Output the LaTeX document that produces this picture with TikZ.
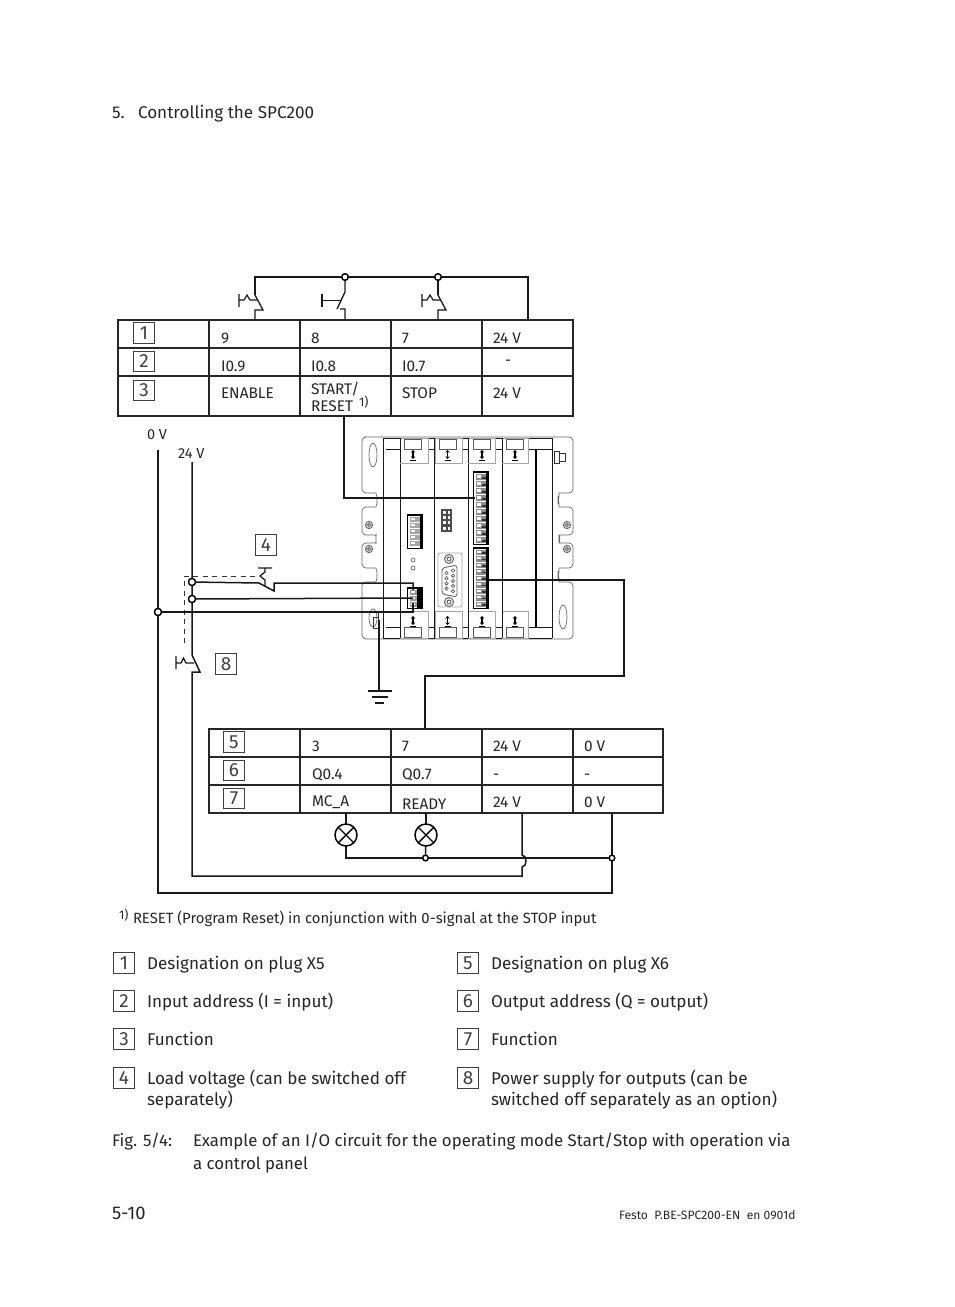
\documentclass[tikz,border=0pt]{standalone}
\usepackage{fontspec}
\usetikzlibrary{arrows.meta}
\setmainfont{Fira Sans}
\setsansfont{Fira Sans}
\begin{document}
\begin{tikzpicture}[x=1pt,y=-1pt,
  every node/.style={inner sep=0pt,outer sep=0pt},
  body/.style={anchor=base west,font=\fontsize{17.1}{22}\selectfont,text=black!85},
  capt/.style={anchor=base west,font=\fontsize{16.8}{22}\selectfont,text=black!85},
  cell/.style={anchor=base west,font=\fontsize{15.4}{16.5}\selectfont,text=black!85},
  foot/.style={anchor=base west,font=\fontsize{14.85}{16}\selectfont,text=black!85},
  tiny/.style={anchor=base west,font=\fontsize{12.5}{14}\selectfont,text=black!85},
  numbox/.style={draw=black!75,line width=0.9pt,minimum width=21pt,minimum height=20.5pt,anchor=center,font=\fontsize{19}{22}\selectfont,text=black!75},
  wire/.style={line width=1.5pt,black!90,line join=miter},
  grid/.style={line width=1.2pt,black!85},
  dev/.style={line width=0.7pt,black!60},
  devk/.style={line width=0.9pt,black!90},
  pin/.style={fill=black!45},
  pinw/.style={fill=white},
  junc/.style={circle,draw=black,line width=1.3pt,fill=white,minimum size=7pt},
  lamp/.style={circle,draw=black,line width=1.5pt,fill=white,minimum size=22pt},
  darrow/.style={black,line width=1.2pt,{Stealth[length=2.6pt,width=4.5pt]}-{Stealth[length=2.6pt,width=4.5pt]}}]
\useasboundingbox (0,0) rectangle (954,1307);
\fill[white] (0,0) rectangle (954,1307);

% header
\node[body] (hd1) at (112,118) {5.};
\node[body] (hd2) at (138,118) {Controlling the SPC200};

% ---- device plate
\draw[dev,rounded corners=4pt]
 (368,437) -- (362,437) -- (362,493) -- (372,493) to[out=0,in=90] (377,500) to[out=-90,in=0] (372,507) -- (362,507) -- (362,535)
 -- (372,535) to[out=0,in=90] (376,539) to[out=-90,in=0] (372,543) -- (362,543) -- (362,568) -- (372,568) to[out=0,in=90] (377,575) to[out=-90,in=0] (372,582) -- (362,582)
 -- (362,639) -- (573,639) -- (573,582) -- (563,582) to[out=180,in=90] (558,575) to[out=-90,in=180] (563,568) -- (573,568)
 -- (573,543) -- (563,543) to[out=180,in=90] (559,539) to[out=-90,in=180] (563,535) -- (573,535) -- (573,507) -- (563,507) to[out=180,in=90] (558,500) to[out=-90,in=180] (563,493) -- (573,493) -- (573,437) -- cycle;
\draw[devk] (383,438) -- (383,638) (552,438) -- (552,638);
\draw[devk] (400,438) -- (400,638) (434,438) -- (434,638) (468,438) -- (468,638) (502,438) -- (502,638);
\draw[devk] (383,438) -- (552,438) (383,638) -- (552,638) (386,627) -- (552,627) (386,449) -- (552,449);
\draw[line width=2pt,black] (535.5,449) -- (535.5,627);
\foreach \xa/\xb/\xc in {400/428/413,435/462/447.5,468/495/482,502/528/515}{
  \draw[draw=black!35,line width=0.8pt,fill=white] (\xa,438) rectangle (\xb,463);
  \draw[draw=black!35,line width=0.8pt,fill=white] (\xa,611) rectangle (\xb,638);
  \draw[black!65,line width=0.8pt,fill=white] ({\xc-8.5},439) rectangle ({\xc+8.5},449);
  \draw[black!65,line width=0.8pt,fill=white] ({\xc-8.5},627) rectangle ({\xc+8.5},637.5);
  \draw[darrow] (\xc,450) -- (\xc,459);
  \draw[darrow] (\xc,616) -- (\xc,625);
  \draw[line width=.8pt,black] ({\xc-3},460) -- ({\xc+3},460) ({\xc-3},626) -- ({\xc+3},626);
}
\draw[devk] (400,438) -- (400,463) (434,438) -- (434,463) (468,438) -- (468,463) (502,438) -- (502,463);
\draw[devk] (400,611) -- (400,638) (434,611) -- (434,638) (468,611) -- (468,638) (502,611) -- (502,638);
% ovals and screws
\draw[dev] (373,455) ellipse (4pt and 12pt) (563,617) ellipse (4pt and 12pt) (373,618) ellipse (4pt and 9pt);
\foreach \sx/\sy in {369/525,369/549,567/525,567/549}{
  \draw[dev,line width=1pt] (\sx,\sy) circle (3.6pt) (\sx,\sy) circle (1.7pt);
}
\draw[black!80,line width=0.9pt] (554,451) rectangle (559,463) (559,453) rectangle (565,461);
\draw[black!80,line width=0.9pt] (373,617) rectangle (378,628) (378,612) -- (378,628);
% LEDs
\draw[dev] (413,560) circle (2pt) (413,568) circle (2pt);
% terminal blocks
\draw[black,line width=.9pt,fill=white] (473.5,471) rectangle (488.5,544.5);
\fill[black] (486,471) rectangle (489,544.5);
\fill[black] (473.5,471) rectangle (486,473);
\foreach \i in {0,...,9}{
  \fill[pin] (476,{474+7*\i}) rectangle (486,{480+7*\i});
  \fill[pinw] (477,{475+7*\i}) rectangle (481,{477.5+7*\i});
  \fill[black!80] (482,{477+7*\i}) rectangle (486,{478.5+7*\i});
}
\draw[black,line width=.9pt,fill=white] (473.5,547) rectangle (488.5,608);
\fill[black] (486,547) rectangle (489,608);
\fill[black] (473.5,547) rectangle (486,549);
\foreach \i in {0,...,8}{
  \fill[pin] (476,{549.5+6.5*\i}) rectangle (486,{555+6.5*\i});
  \fill[pinw] (477,{550.5+6.5*\i}) rectangle (481,{552.5+6.5*\i});
  \fill[black!80] (482,{552+6.5*\i}) rectangle (486,{553.5+6.5*\i});
}
\draw[black,line width=.9pt,fill=white] (407.5,514) rectangle (422.5,548);
\fill[black] (419.5,514) rectangle (423,548);
\fill[black] (407.5,514) rectangle (423,516);
\foreach \i in {0,...,4}{
  \fill[black!35] (410,{517+6*\i}) rectangle (419.5,{522+6*\i});
  \fill[white] (411,{518+6*\i}) rectangle (415,{520+6*\i});
}
\fill[black!70] (441,509) rectangle (452,532);
\foreach \i in {0,...,3}{
  \fill[white] (443,{511+5.2*\i}) rectangle (445.5,{514+5.2*\i});
  \fill[white] (447.5,{511+5.2*\i}) rectangle (450,{514+5.2*\i});
}
\draw[black,line width=.9pt,fill=white] (407.5,587) rectangle (422.5,608);
\fill[black] (417,587) rectangle (423,608);
\fill[black] (407.5,587) rectangle (423,589);
\foreach \i in {0,1,2}{
  \fill[black!40] (410,{590+6*\i}) rectangle (417,{595+6*\i});
  \fill[white] (411,{591+6*\i}) rectangle (415,{593+6*\i});
}
% sub-D
\draw[black!35,line width=.8pt,rounded corners=2pt] (438,553) rectangle (462,607);
\draw[dev,line width=1pt] (449,559) circle (4.5pt) (449,559) circle (2pt) (449,602) circle (4.5pt) (449,602) circle (2pt);
\draw[dev,rounded corners=3pt,line width=.9pt] (442,568) -- (457,565) -- (457,597) -- (442,594) -- cycle;
\foreach \i in {0,...,4}{ \draw[black!70,line width=.6pt] (453,{570.5+5.2*\i}) circle (1.7pt); }
\foreach \i in {0,...,3}{ \draw[black!70,line width=.6pt] (446.5,{573+5.2*\i}) circle (1.7pt); }

% ---- table 1
\draw[grid] (118,320) rectangle (573,416);
\draw[grid] (118,348) -- (573,348) (118,376) -- (573,376);
\foreach \xx in {209,300,391,482}{ \draw[grid] (\xx,320) -- (\xx,416); }
\node[numbox] (n1) at (144,333) {1};
\node[numbox] (n2) at (144,361.5) {2};
\node[numbox] (n3) at (144,390.5) {3};
\node[cell] (t9) at (221,343) {9};
\node[cell] (t8) at (311,343) {8};
\node[cell] (t7) at (402,343) {7};
\node[cell] (t24a) at (493,343) {24 V};
\node[cell] (ti9) at (221,371) {I0.9};
\node[cell] (ti8) at (311,371) {I0.8};
\node[cell] (ti7) at (402,371) {I0.7};
\node[cell] (tdash) at (505,365) {-};
\node[cell] (ten) at (221,398) {ENABLE};
\node[cell] (tst) at (311,394) {START/};
\node[cell] (tre) at (311,411) {RESET};
\node[tiny] (tre1) at (359,406) {1)};
\node[cell] (tsp) at (402,398) {STOP};
\node[cell] (t24b) at (493,398) {24 V};

% top wiring
\coordinate (pa) at (255,319);
\coordinate (pd) at (528,319);
\node[junc,minimum size=6.5pt] (j1) at (345,277) {};
\node[junc,minimum size=6.5pt] (j2) at (438,277) {};
\draw[wire] (255,295) -- (255,277) -- (j1) -- (j2) -- (528,277) -- (pd);
% switches NC
\foreach \o in {0,183}{
 \draw[wire,line width=1.3pt] (255+\o,295) -- (263+\o,310) -- (255+\o,310) -- (255+\o,319);
 \draw[wire,line width=1.2pt] (239+\o,294) -- (239+\o,307) (239+\o,300) -- (244+\o,300) -- (247+\o,295) -- (250+\o,300) -- (257+\o,300);
}
\draw[wire] (438,277) -- (438,295);
\draw[wire,line width=1.3pt] (j1) -- (345,292) -- (337,309) (340,309) -- (345,309) -- (345,319);
\draw[wire,line width=1.2pt] (322,294) -- (322,307) (322,300.5) -- (342,300.5);
\foreach \n in {j1,j2}{ \node[junc,minimum size=6.5pt] at (\n) {}; }

% wire start/reset to block
\coordinate (w1) at (344,416);
\coordinate (w2) at (475,498);
\draw[wire] (w1) |- (w2);
\coordinate (w3) at (489,580);
\coordinate (w4) at (425,728);
\draw[wire] (w3) -- (624,580) -- (624,676) -- (425,676) -- (w4);

% left side
\node[tiny,font=\fontsize{14.5}{16}\selectfont] (v0) at (147,439) {0 V};
\node[tiny,font=\fontsize{14.5}{16}\selectfont] (v24) at (178,458) {24 V};
\coordinate (a0) at (158,450);
\coordinate (a24) at (192,462);
\node[junc] (ja) at (192,582) {};
\node[junc] (jb) at (192,599) {};
\node[junc] (jc) at (158,612) {};
\node[junc,minimum size=5.5pt] (jd) at (425.5,858) {};
\node[junc,minimum size=5.5pt] (je) at (612,858) {};
\draw[dashed,dash pattern=on 5pt off 4.5pt,line width=.8pt,black!80] (255,576) -- (184,576) -- (184,645);
% 24 V main
\draw[wire] (a24) -- (ja) -- (jb) -- (192,655) -- (200,672) -- (192,672) -- (192,876) -- (522,876) -- (522,867) to[out=0,in=-90] (526,861) to[out=90,in=0] (522,855) -- (522,813);
% 0 V main
\draw[wire] (a0) -- (jc) -- (158,893) -- (612,893) -- (je) -- (612,813);
% load switch
\draw[wire] (ja) -- (259,583) -- (274,591) -- (274,583) -- (413,583) -- (413,590);
\draw[wire] (jb) -- (413,598);
\draw[wire] (jc) -- (413,612) -- (413,603);
\draw[wire,line width=1.2pt] (258,568) -- (272,568) (265,568) -- (265,572) -- (260,576) -- (265,580) -- (265,586);
\draw[wire,line width=1.2pt] (176,656) -- (176,669) (176,663) -- (181,663) -- (183.5,658) -- (186,663) -- (194,663);
\foreach \n in {ja,jb,jc}{ \node[junc] at (\n) {}; }
\node[numbox] (n4) at (266,545) {4};
\node[numbox] (n8) at (226,664) {8};
% ground
\coordinate (g0) at (379,620);
\coordinate (g1) at (379,691);
\draw[wire,line width=1.2pt] (g0) -- (g1);
\draw[wire,line width=1.2pt] (368,691) -- (392,691);
\draw[wire,line width=1.2pt] (372,697) -- (388,697);
\draw[wire,line width=1.4pt] (375,703) -- (384,703);

% ---- table 2
\draw[grid] (209,729) rectangle (663,813);
\draw[grid] (209,757) -- (663,757) (209,785) -- (663,785);
\foreach \xx in {300,391,482,573}{ \draw[grid] (\xx,729) -- (\xx,813); }
\node[numbox] (n5) at (234,742) {5};
\node[numbox] (n6) at (234,770.5) {6};
\node[numbox] (n7) at (234,798.5) {7};
\node[cell] (c3) at (312,751) {3};
\node[cell] (c7) at (402,751) {7};
\node[cell] (c24) at (493,751) {24 V};
\node[cell] (c0) at (584,751) {0 V};
\node[cell] (cq4) at (312,779) {Q0.4};
\node[cell] (cq7) at (402,779) {Q0.7};
\node[cell] (cd1) at (493,779) {-};
\node[cell] (cd2) at (584,779) {-};
\node[cell] (cmc) at (312,806) {MC\_A};
\node[cell] (crd) at (402,809) {READY};
\node[cell] (c24b) at (493,807) {24 V};
\node[cell] (c0b) at (584,807) {0 V};
% lamps
\coordinate (l1t) at (346,813);
\coordinate (l2t) at (426,813);
\node[lamp] (l1) at (346,835) {};
\node[lamp] (l2) at (426,835) {};
\draw[wire] (l1t) -- (l1);
\draw[wire] (l2t) -- (l2);
\foreach \n in {l1,l2}{
  \draw[line width=1.4pt] (\n.north west) -- (\n.south east) (\n.north east) -- (\n.south west);
}
\draw[wire] (l1) -- (346,858) -- (jd) -- (je);
\draw[wire] (l2) -- (jd);
\node[junc,minimum size=5.5pt] at (jd) {};
\node[junc,minimum size=5.5pt] at (je) {};

% footnote
\node[tiny] (f1) at (119,919) {1)};
\node[foot] (f2) at (133,923) {RESET (Program Reset) in conjunction with 0-signal at the STOP input};

% legend
\foreach \nm/\yy/\lab/\txt in {a/963/1/Designation on plug X5,b/1001/2/Input address (I = input),c/1039/3/Function,d/1078/4/Load voltage (can be switched off}{
  \node[numbox] (la\nm) at (124,\yy) {\lab};
  \node[body] (lt\nm) at (147,\yy+6) {\txt};
}
\node[body] (ltd2) at (147,1105) {separately)};
\foreach \nm/\yy/\lab/\txt in {a/963/5/Designation on plug X6,b/1001/6/Output address (Q = output),c/1039/7/Function,d/1078/8/Power supply for outputs (can be}{
  \node[numbox] (ra\nm) at (468,\yy) {\lab};
  \node[body] (rt\nm) at (491,\yy+6) {\txt};
}
\node[body] (rtd2) at (491,1105) {switched off separately as an option)};

% caption
\node[capt] (cap0) at (112,1146) {Fig. 5/4:};
\node[capt] (cap1) at (193,1146) {Example of an I/O circuit for the operating mode Start/Stop with operation via};
\node[capt] (cap2) at (193,1169) {a control panel};
\node[body,font=\fontsize{18.4}{22}\selectfont] (pg) at (112,1219) {5-10};
\node[foot,font=\fontsize{12.1}{15}\selectfont] (ft) at (619,1219) {Festo\ \ P.BE-SPC200-EN\ \ en 0901d};
\end{tikzpicture}
\end{document}
